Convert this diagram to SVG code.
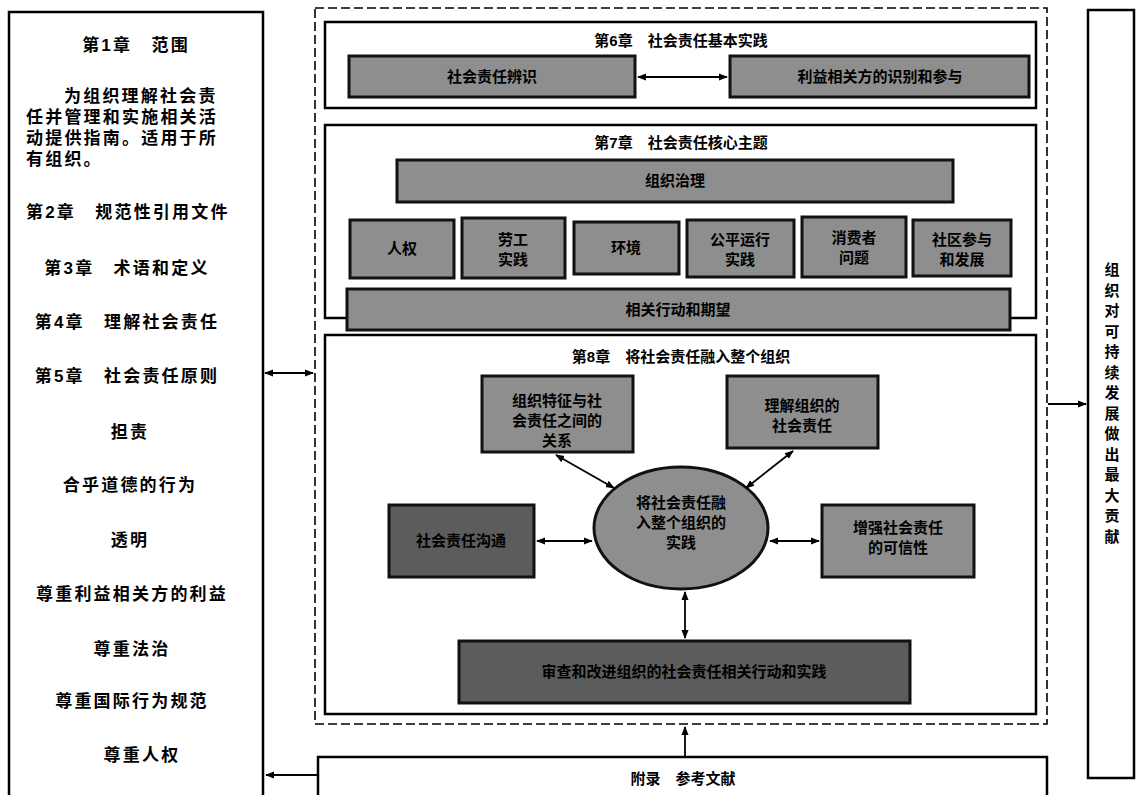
<svg xmlns="http://www.w3.org/2000/svg" width="1136" height="795" viewBox="0 0 1136 795">
<style>
text{font-family:"Liberation Sans","Noto Sans CJK SC",sans-serif;font-weight:bold;fill:#000}
.panel{fill:#fff;stroke:#000;stroke-width:2.5}
.dash{fill:none;stroke:#000;stroke-width:1.6;stroke-dasharray:9 4}
.gray{fill:#8e8e8e;stroke:#111;stroke-width:3}
.dark{fill:#5c5c5c;stroke:#111;stroke-width:3}
.t16{font-size:17px;letter-spacing:2.2px}
.t14{font-size:15px}
.t13{font-size:15px;text-anchor:middle}
.c{text-anchor:middle}
.ln{stroke:#000;stroke-width:1.8;fill:none}
</style>
<defs>
<marker id="ah" viewBox="0 0 10 10" refX="9" refY="5" markerWidth="5" markerHeight="5" orient="auto-start-reverse" markerUnits="strokeWidth">
<path d="M0,1 L10,5 L0,9 z" fill="#000"/>
</marker>
</defs>
<rect width="1136" height="795" fill="#fff"/>

<g id="left-panel">
<rect class="panel" x="9" y="12" width="254" height="800"/>
<text class="t16 c" x="136" y="51">第1章　范围</text>
<text class="t16" x="64" y="102">为组织理解社会责</text>
<text class="t16" x="26" y="123">任并管理和实施相关活</text>
<text class="t16" x="26" y="144">动提供指南。适用于所</text>
<text class="t16" x="26" y="165">有组织。</text>
<text class="t16" x="26" y="218">第2章　规范性引用文件</text>
<text class="t16 c" x="127" y="274">第3章　术语和定义</text>
<text class="t16 c" x="127" y="328">第4章　理解社会责任</text>
<text class="t16 c" x="127" y="382">第5章　社会责任原则</text>
<text class="t16 c" x="130" y="438">担责</text>
<text class="t16 c" x="130" y="491">合乎道德的行为</text>
<text class="t16 c" x="130" y="546">透明</text>
<text class="t16 c" x="132" y="600">尊重利益相关方的利益</text>
<text class="t16 c" x="132" y="655">尊重法治</text>
<text class="t16 c" x="132" y="707">尊重国际行为规范</text>
<text class="t16 c" x="142" y="761">尊重人权</text>
</g>

<g id="core-frame">
<rect class="dash" x="315" y="8" width="732" height="716"/>
</g>

<g id="ch6">
<rect class="panel" x="325" y="22" width="711" height="86"/>
<text class="t14 c" x="681" y="46">第6章　社会责任基本实践</text>
<g id="ch6-identify">
<rect class="gray" x="349" y="56" width="286" height="41"/>
<text class="t13" x="492" y="82">社会责任辨识</text>
</g>
<g id="ch6-stakeholder">
<rect class="gray" x="730" y="56" width="299" height="41"/>
<text class="t13" x="880" y="82">利益相关方的识别和参与</text>
</g>
</g>

<g id="ch7">
<rect class="panel" x="325" y="125" width="711" height="193"/>
<text class="t14 c" x="681" y="148">第7章　社会责任核心主题</text>
<g id="ch7-governance">
<rect class="gray" x="397" y="160" width="556" height="42"/>
<text class="t13" x="675" y="186">组织治理</text>
</g>
<g id="ch7-hr">
<rect class="gray" x="350" y="220" width="104" height="58"/>
<text class="t13" x="402" y="254">人权</text>
</g>
<g id="ch7-labour">
<rect class="gray" x="462" y="218" width="103" height="60"/>
<text class="t13" x="513" y="245">劳工</text>
<text class="t13" x="513" y="265">实践</text>
</g>
<g id="ch7-env">
<rect class="gray" x="574" y="222" width="105" height="52"/>
<text class="t13" x="626" y="253">环境</text>
</g>
<g id="ch7-fair">
<rect class="gray" x="687" y="220" width="107" height="57"/>
<text class="t13" x="740" y="245">公平运行</text>
<text class="t13" x="740" y="265">实践</text>
</g>
<g id="ch7-consumer">
<rect class="gray" x="802" y="217" width="104" height="60"/>
<text class="t13" x="854" y="243">消费者</text>
<text class="t13" x="854" y="263">问题</text>
</g>
<g id="ch7-community">
<rect class="gray" x="913" y="220" width="98" height="56"/>
<text class="t13" x="962" y="245">社区参与</text>
<text class="t13" x="962" y="265">和发展</text>
</g>
<g id="ch7-actions">
<rect class="gray" x="347" y="289" width="663" height="41"/>
<text class="t13" x="678" y="315">相关行动和期望</text>
</g>
</g>

<g id="ch8">
<rect class="panel" x="325" y="335" width="711" height="379"/>
<text class="t14 c" x="681" y="362">第8章　将社会责任融入整个组织</text>
<g id="ch8-relation">
<rect class="gray" x="482" y="376" width="151" height="76"/>
<text class="t13" x="557" y="406">组织特征与社</text>
<text class="t13" x="557" y="426">会责任之间的</text>
<text class="t13" x="557" y="446">关系</text>
</g>
<g id="ch8-understand">
<rect class="gray" x="727" y="376" width="151" height="72"/>
<text class="t13" x="802" y="411">理解组织的</text>
<text class="t13" x="802" y="431">社会责任</text>
</g>
<g id="ch8-communication">
<rect class="dark" x="389" y="505" width="145" height="72"/>
<text class="t13" x="461" y="546">社会责任沟通</text>
</g>
<g id="ch8-center">
<ellipse cx="681" cy="528" rx="87" ry="61" fill="#8e8e8e" stroke="#111" stroke-width="3"/>
<text class="t13" x="681" y="508">将社会责任融</text>
<text class="t13" x="681" y="528">入整个组织的</text>
<text class="t13" x="681" y="548">实践</text>
</g>
<g id="ch8-credibility">
<rect class="gray" x="822" y="505" width="152" height="72"/>
<text class="t13" x="898" y="533">增强社会责任</text>
<text class="t13" x="898" y="553">的可信性</text>
</g>
<g id="ch8-review">
<rect class="dark" x="459" y="641" width="451" height="62"/>
<text class="t13" x="684" y="677">审查和改进组织的社会责任相关行动和实践</text>
</g>
</g>

<g id="appendix">
<rect class="panel" x="318" y="757" width="729" height="50"/>
<text class="t14 c" x="683" y="784">附录　参考文献</text>
</g>

<g id="right-panel">
<rect class="panel" x="1088" y="10" width="46" height="768"/>
<text class="t14 c" x="1112">
<tspan x="1112" y="275">组</tspan><tspan x="1112" y="295.5">织</tspan><tspan x="1112" y="316">对</tspan><tspan x="1112" y="336.5">可</tspan><tspan x="1112" y="357">持</tspan><tspan x="1112" y="377.5">续</tspan><tspan x="1112" y="398">发</tspan><tspan x="1112" y="418.5">展</tspan><tspan x="1112" y="439">做</tspan><tspan x="1112" y="459.5">出</tspan><tspan x="1112" y="480">最</tspan><tspan x="1112" y="500.5">大</tspan><tspan x="1112" y="521">贡</tspan><tspan x="1112" y="541.5">献</tspan>
</text>
</g>

<g id="connectors">
<line class="ln" x1="638" y1="77" x2="727" y2="77" marker-start="url(#ah)" marker-end="url(#ah)"/>
<line class="ln" x1="265" y1="373" x2="313" y2="373" marker-start="url(#ah)" marker-end="url(#ah)"/>
<line class="ln" x1="1048" y1="404" x2="1086" y2="404" marker-end="url(#ah)"/>
<line class="ln" x1="685" y1="756" x2="685" y2="727" marker-end="url(#ah)"/>
<line class="ln" x1="317" y1="775" x2="266" y2="775" marker-end="url(#ah)"/>
<line class="ln" x1="556" y1="455" x2="614" y2="488" marker-start="url(#ah)" marker-end="url(#ah)"/>
<line class="ln" x1="793" y1="451" x2="746" y2="488" marker-start="url(#ah)" marker-end="url(#ah)"/>
<line class="ln" x1="537" y1="541" x2="592" y2="541" marker-start="url(#ah)" marker-end="url(#ah)"/>
<line class="ln" x1="770" y1="541" x2="819" y2="541" marker-start="url(#ah)" marker-end="url(#ah)"/>
<line class="ln" x1="685" y1="592" x2="685" y2="638" marker-start="url(#ah)" marker-end="url(#ah)"/>
</g>
</svg>
